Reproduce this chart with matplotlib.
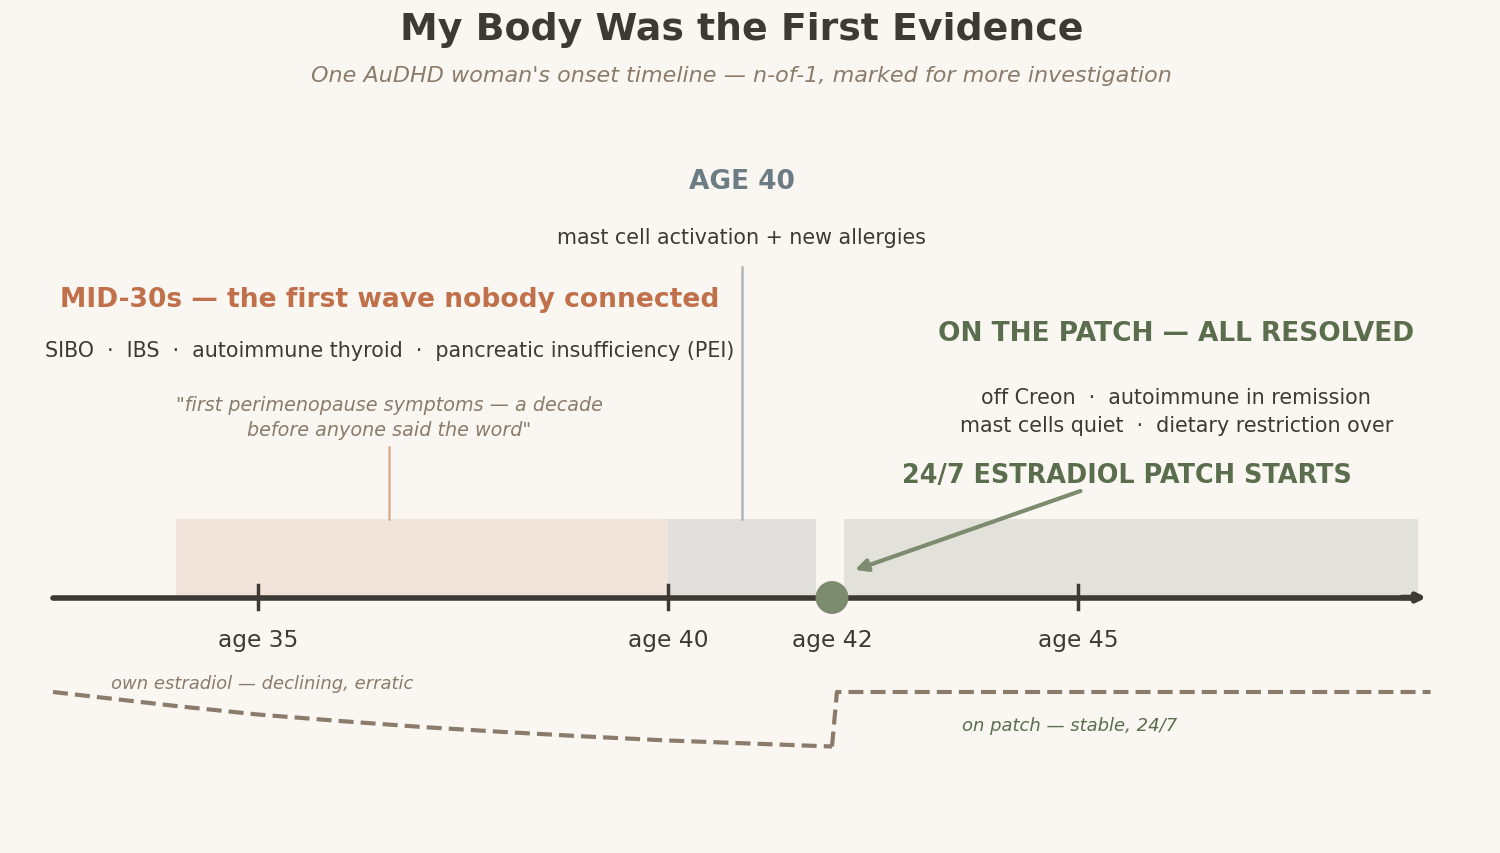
import numpy as np
import matplotlib
matplotlib.use("Agg")
from matplotlib import pyplot as plt
from matplotlib.patches import Rectangle

# timeline data (ages)
tick_ages = [35, 40, 42, 45]
tick_labels = ["age 35", "age 40", "age 42", "age 45"]
major_ticks = [35, 40, 45]
axis_start, axis_end = 32.5, 49.25

# phases: (start, end)
mid30s_span = (34.0, 40.0)
age40_span = (40.0, 41.8)
patch_span = (42.15, 49.15)
patch_start = 42.0
mid30s_marker = 36.6
age40_marker = 40.9

# estradiol level (relative, lower = less)
own_e2_ages = [32.5, 34.0, 35.0, 36.0, 37.0, 38.0, 39.0, 40.0, 41.0, 42.0]
own_e2_level = [0.0, -14.0, -22.5, -29.0, -35.0, -40.0, -44.5, -48.5, -51.5, -54.5]
patch_e2_ages = [42.0, 42.06, 49.3]
patch_e2_level = [-54.5, 0.0, 0.0]

BG = "#faf7f2"
DARK = "#3d3a35"
MUTED = "#8b7b6b"
ORANGE = "#c0704a"
GREEN = "#5a6e4e"
SAGE = "#7d8c6e"
SLATE = "#6b7c85"

plt.rcParams['font.family'] = ['DejaVu Sans']

fig = plt.figure(figsize=(15, 8.54), dpi=100, facecolor=BG)
ax = fig.add_axes([0, 0, 1, 1])
ax.set_facecolor(BG)
# x in ages, y in pixels from top
px_per_year = 82.0
ax.set_xlim(40 - 668 / px_per_year, 40 + 832 / px_per_year)
ax.set_ylim(854, 0)
ax.axis('off')

axis_y = 598.5

# shaded phases
ax.add_patch(Rectangle((mid30s_span[0], 520), mid30s_span[1] - mid30s_span[0], axis_y - 520,
                       facecolor="#f2e4db", edgecolor='none', zorder=1))
ax.add_patch(Rectangle((age40_span[0], 520), age40_span[1] - age40_span[0], axis_y - 520,
                       facecolor="#e1e0dd", edgecolor='none', zorder=1))
ax.add_patch(Rectangle((patch_span[0], 520), patch_span[1] - patch_span[0], axis_y - 520,
                       facecolor="#e2e2da", edgecolor='none', zorder=1))

# main axis with arrow
ax.plot([axis_start, axis_end - 0.1], [axis_y, axis_y], color=DARK, lw=4, solid_capstyle='round', zorder=3)
ax.annotate("", xy=(axis_end, axis_y), xytext=(axis_end - 0.3, axis_y),
            arrowprops=dict(arrowstyle="-|>", color=DARK, lw=4, mutation_scale=12, shrinkA=0, shrinkB=0),
            zorder=3)

for a in major_ticks:
    ax.plot([a, a], [586, 610], color=DARK, lw=2.5, zorder=4)
for a, lab in zip(tick_ages, tick_labels):
    ax.text(a, 641, lab, ha='center', va='center', fontsize=16.8, color=DARK)

# patch start dot
ax.scatter([patch_start], [axis_y], s=560, color=SAGE, zorder=5, edgecolors='none')

# marker lines
ax.plot([mid30s_marker, mid30s_marker], [448, 520], color="#dcae92", lw=1.8, zorder=2)
ax.plot([age40_marker, age40_marker], [268, 520], color="#b3b6b6", lw=1.8, zorder=2)

# titles
ax.text(40.9, 30, "My Body Was the First Evidence", ha='center', va='center',
        fontsize=27.3, fontweight='bold', color=DARK)
ax.text(40.9, 76, "One AuDHD woman's onset timeline \u2014 n-of-1, marked for more investigation",
        ha='center', va='center', fontsize=16, style='italic', color=MUTED)

# age 40 block
ax.text(age40_marker, 182, "AGE 40", ha='center', va='center', fontsize=19, fontweight='bold', color=SLATE)
ax.text(age40_marker, 238, "mast cell activation + new allergies", ha='center', va='center',
        fontsize=14.9, color=DARK)

# mid-30s block
ax.text(mid30s_marker, 300, "MID-30s \u2014 the first wave nobody connected", ha='center', va='center',
        fontsize=19.1, fontweight='bold', color=ORANGE)
ax.text(mid30s_marker, 351,
        "SIBO  \u00b7  IBS  \u00b7  autoimmune thyroid  \u00b7  pancreatic insufficiency (PEI)",
        ha='center', va='center', fontsize=14.9, color=DARK)
ax.text(mid30s_marker, 418, "\"first perimenopause symptoms \u2014 a decade\nbefore anyone said the word\"",
        ha='center', va='center', fontsize=13.8, style='italic', color=MUTED, linespacing=1.45)

# patch block
ax.text(46.2, 334, "ON THE PATCH \u2014 ALL RESOLVED", ha='center', va='center',
        fontsize=19, fontweight='bold', color=GREEN)
ax.text(46.2, 412, "off Creon  \u00b7  autoimmune in remission\nmast cells quiet  \u00b7  dietary restriction over",
        ha='center', va='center', fontsize=14.9, color=DARK, linespacing=1.5)
ax.text(45.6, 476, "24/7 ESTRADIOL PATCH STARTS", ha='center', va='center',
        fontsize=18.4, fontweight='bold', color=GREEN)
ax.annotate("", xy=(patch_start + 0.28, 571), xytext=(45.03, 492),
            arrowprops=dict(arrowstyle="-|>", color=SAGE, lw=3, mutation_scale=18, shrinkA=0, shrinkB=0),
            zorder=6)

# estradiol traces
base_y = 693
dash = (0, (3.6, 1.7))
ax.plot(own_e2_ages, [base_y - v for v in own_e2_level], color=MUTED, lw=3, ls=dash, zorder=2)
ax.plot(patch_e2_ages, [base_y - v for v in patch_e2_level], color=MUTED, lw=3, ls=dash, zorder=2)
ax.text(35.05, 684, "own estradiol \u2014 declining, erratic", ha='center', va='center',
        fontsize=13, style='italic', color=MUTED)
ax.text(44.9, 726, "on patch \u2014 stable, 24/7", ha='center', va='center',
        fontsize=13, style='italic', color=GREEN)

fig.savefig("out.png", dpi=100, facecolor=BG)
